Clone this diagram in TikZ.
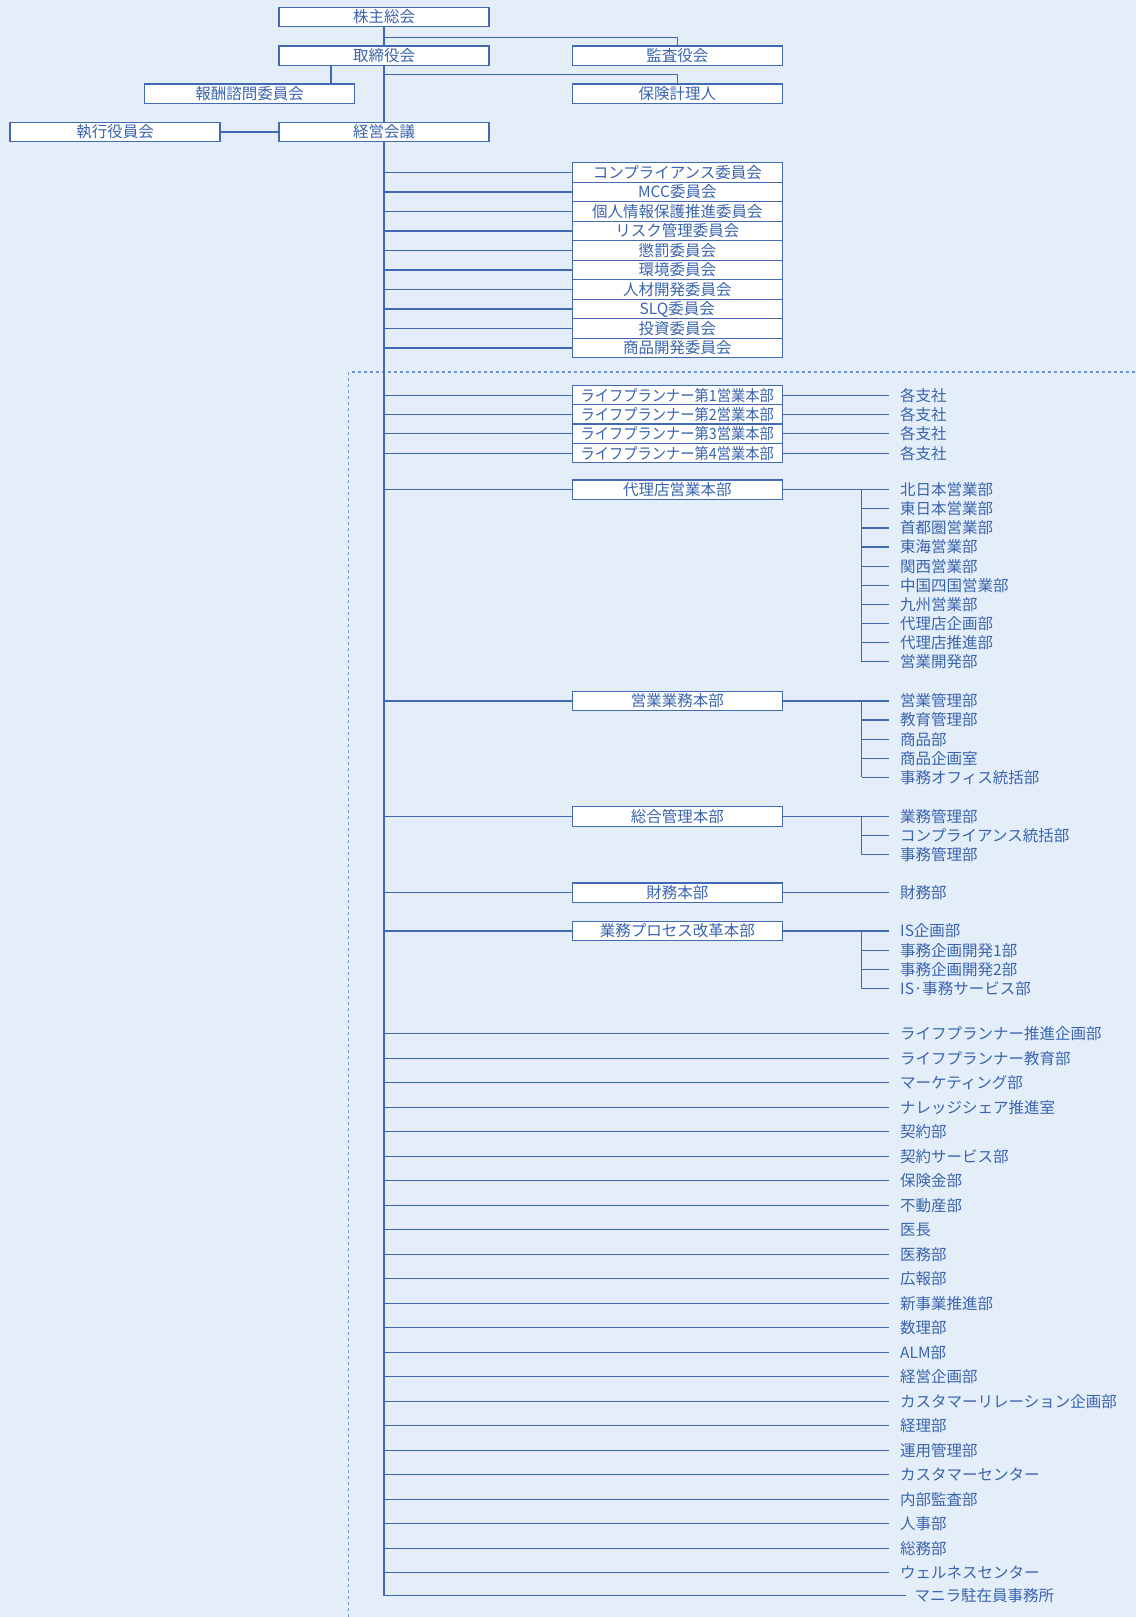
\documentclass[tikz,border=0pt]{standalone}
\usepackage{fontspec}
\setmainfont{Noto Sans CJK JP}
\definecolor{bgc}{HTML}{E4EEF9}
\definecolor{lnc}{HTML}{4169B4}
\definecolor{txc}{HTML}{3A64AE}
\definecolor{dsc}{HTML}{7193CE}
\newcommand\orgfs{\fontsize{15.5pt}{15.5pt}\selectfont}
\begin{document}
\begin{tikzpicture}[x=1pt,y=-1pt,
  box/.style={draw=lnc, fill=white, line width=1.2pt, minimum width=210pt, minimum height=19.5pt, inner sep=0pt, text=txc, font=\orgfs},
  lbl/.style={anchor=west, inner sep=0pt, text=txc, font=\orgfs},
  conn/.style={draw=lnc, line width=1.2pt},
  dashline/.style={draw=dsc, line width=1.2pt, dash pattern=on 3pt off 3pt}]
\useasboundingbox (0,0) rectangle (1136,1617);
\fill[bgc] (0,0) rectangle (1136,1617);

% top
\node[box] (kabu) at (384,17) {株主総会};
\node[box] (tori) at (384,55.7) {取締役会};
\node[box] (kansa) at (677.3,55.7) {監査役会};
\node[box] (hoshu) at (249.5,93.8) {報酬諮問委員会};
\node[box] (hoken) at (677.3,93.8) {保険計理人};
\node[box] (keiei) at (384,132) {経営会議};
\node[box] (shikko) at (115,132) {執行役員会};

\coordinate (j1) at (384,37.1);
\coordinate (j2) at (384,74.2);
\coordinate (hx) at (331,0);
\draw[conn] (kabu.south) -- (tori.north);
\draw[conn] (j1) -| (kansa.north);
\draw[conn] (tori.south) -- (keiei.north);
\draw[conn] (j2) -| (hoken.north);
\draw[conn] (tori.south -| hx) -- (hoshu.north -| hx);
\draw[conn] (shikko.east) -- (keiei.west);

% committees
\foreach \t [count=\i] in {コンプライアンス委員会,MCC委員会,個人情報保護推進委員会,リスク管理委員会,懲罰委員会,環境委員会,人材開発委員会,SLQ委員会,投資委員会,商品開発委員会}{
  \node[box] (c\i) at (677.3,{172.6+19.48*(\i-1)}) {\t};
  \draw[conn] (c\i.west) -- (c\i.west -| keiei.south);
}

% dashed frame
\draw[dashline] (348.5,1617) -- (348.5,372) -- (1136,372);

% life planner
\foreach \n [count=\i] in {1,2,3,4}{
  \node[box] (lp\i) at (677.3,{395.2+19.3*(\i-1)}) {\scalebox{0.92}[1]{ライフプランナー第\n 営業本部}};
  \node[lbl] (lb\i) at (900,{395.2+19.3*(\i-1)}) {各支社};
  \draw[conn] (lp\i.west) -- (lp\i.west -| keiei.south);
  \draw[conn] (lp\i.east) -- ([xshift=-11pt]lb\i.west);
}

\coordinate (bx) at (861.8,0);

% 代理店営業本部
\node[box] (dairi) at (677.3,489.7) {代理店営業本部};
\draw[conn] (dairi.west) -- (dairi.west -| keiei.south);
\foreach \t [count=\i] in {北日本営業部,東日本営業部,首都圏営業部,東海営業部,関西営業部,中国四国営業部,九州営業部,代理店企画部,代理店推進部,営業開発部}{
  \node[lbl] (d\i) at (900,{489.7+19.13*(\i-1)}) {\t};
  \draw[conn] (d\i.west -| bx) -- ([xshift=-11pt]d\i.west);
}
\draw[conn] (dairi.east) -- (d1.west -| bx) -- (d10.west -| bx);

% 営業業務本部
\node[box] (eigyo) at (677.3,701) {営業業務本部};
\draw[conn] (eigyo.west) -- (eigyo.west -| keiei.south);
\foreach \t [count=\i] in {営業管理部,教育管理部,商品部,商品企画室,事務オフィス統括部}{
  \node[lbl] (e\i) at (900,{701+19.08*(\i-1)}) {\t};
  \draw[conn] (e\i.west -| bx) -- ([xshift=-11pt]e\i.west);
}
\draw[conn] (eigyo.east) -- (e1.west -| bx) -- (e5.west -| bx);

% 総合管理本部
\node[box] (sogo) at (677.3,816.5) {総合管理本部};
\draw[conn] (sogo.west) -- (sogo.west -| keiei.south);
\foreach \t [count=\i] in {業務管理部,コンプライアンス統括部,事務管理部}{
  \node[lbl] (s\i) at (900,{816.5+19.05*(\i-1)}) {\t};
  \draw[conn] (s\i.west -| bx) -- ([xshift=-11pt]s\i.west);
}
\draw[conn] (sogo.east) -- (s1.west -| bx) -- (s3.west -| bx);

% 財務本部
\node[box] (zaimu) at (677.3,892.8) {財務本部};
\node[lbl] (zm) at (900,892.8) {財務部};
\draw[conn] (zaimu.west) -- (zaimu.west -| keiei.south);
\draw[conn] (zaimu.east) -- ([xshift=-11pt]zm.west);

% 業務プロセス改革本部
\node[box] (gyomu) at (677.3,930.9) {業務プロセス改革本部};
\draw[conn] (gyomu.west) -- (gyomu.west -| keiei.south);
\foreach \t [count=\i] in {IS企画部,事務企画開発1部,事務企画開発2部,IS·事務サービス部}{
  \node[lbl] (g\i) at (900,{930.9+19.23*(\i-1)}) {\t};
  \draw[conn] (g\i.west -| bx) -- ([xshift=-11pt]g\i.west);
}
\draw[conn] (gyomu.east) -- (g1.west -| bx) -- (g4.west -| bx);

% direct departments
\foreach \t [count=\i] in {ライフプランナー推進企画部,ライフプランナー教育部,マーケティング部,ナレッジシェア推進室,契約部,契約サービス部,保険金部,不動産部,医長,医務部,広報部,新事業推進部,数理部,ALM部,経営企画部,カスタマーリレーション企画部,経理部,運用管理部,カスタマーセンター,内部監査部,人事部,総務部,ウェルネスセンター}{
  \node[lbl] (r\i) at (900,{1033.7+24.5*(\i-1)}) {\t};
  \draw[conn] (r\i.west -| keiei.south) -- ([xshift=-11pt]r\i.west);
}
\node[lbl] (manila) at (914.5,1595.7) {マニラ駐在員事務所};
\draw[conn] (keiei.south) -- (keiei.south |- manila.west) -- ([xshift=-8.5pt]manila.west);
\end{tikzpicture}
\end{document}
